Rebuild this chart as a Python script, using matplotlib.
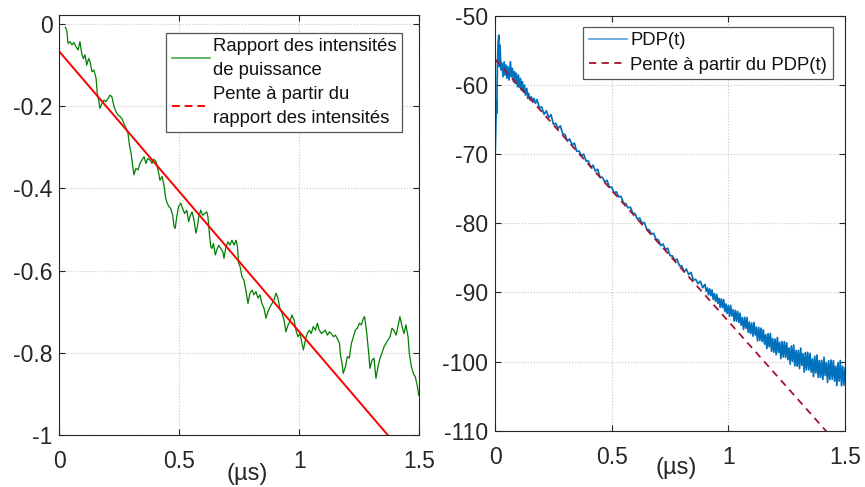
import matplotlib
matplotlib.use("Agg")
import matplotlib.pyplot as plt
from matplotlib.lines import Line2D

plt.rcParams['font.family'] = ['Liberation Sans', 'DejaVu Sans']

# ---------------- Left panel data ----------------
ratio_t = [0.025, 0.031, 0.036, 0.044, 0.053, 0.061, 0.069, 0.078, 0.086, 0.093,
           0.100, 0.107, 0.114, 0.122, 0.128, 0.136, 0.144, 0.153, 0.158, 0.164,
           0.169, 0.178, 0.186, 0.194, 0.203, 0.211, 0.219, 0.228, 0.236, 0.244,
           0.253, 0.261, 0.269, 0.278, 0.286, 0.292, 0.299, 0.306, 0.311, 0.319,
           0.328, 0.336, 0.344, 0.353, 0.361, 0.369, 0.378, 0.386, 0.394, 0.403,
           0.408, 0.414, 0.419, 0.428, 0.436, 0.442, 0.447, 0.456, 0.464, 0.472,
           0.478, 0.483, 0.489, 0.497, 0.506, 0.514, 0.522, 0.531, 0.539, 0.544,
           0.553, 0.561, 0.569, 0.575, 0.581, 0.589, 0.597, 0.606, 0.614, 0.619,
           0.625, 0.631, 0.636, 0.642, 0.650, 0.656, 0.664, 0.672, 0.681, 0.686,
           0.694, 0.703, 0.711, 0.719, 0.728, 0.736, 0.742, 0.747, 0.753, 0.761,
           0.769, 0.778, 0.786, 0.794, 0.803, 0.811, 0.819, 0.828, 0.836, 0.844,
           0.853, 0.861, 0.869, 0.878, 0.886, 0.894, 0.903, 0.911, 0.919, 0.928,
           0.936, 0.944, 0.953, 0.961, 0.969, 0.978, 0.986, 0.994, 1.003, 1.011,
           1.017, 1.025, 1.033, 1.042, 1.050, 1.058, 1.067, 1.075, 1.083, 1.092,
           1.100, 1.108, 1.117, 1.125, 1.133, 1.142, 1.150, 1.158, 1.167, 1.172,
           1.178, 1.183, 1.192, 1.200, 1.208, 1.217, 1.225, 1.233, 1.242, 1.250,
           1.258, 1.267, 1.272, 1.281, 1.289, 1.294, 1.303, 1.311, 1.319, 1.328,
           1.336, 1.344, 1.353, 1.361, 1.369, 1.378, 1.386, 1.394, 1.403, 1.411,
           1.419, 1.428, 1.436, 1.444, 1.453, 1.458, 1.467, 1.475, 1.483, 1.492,
           1.497]
ratio_val = [-0.008, -0.015, -0.047, -0.043, -0.051, -0.045, -0.055, -0.063, -0.043, -0.071,
             -0.084, -0.075, -0.100, -0.084, -0.092, -0.116, -0.112, -0.132, -0.169, -0.185,
             -0.205, -0.193, -0.185, -0.189, -0.181, -0.173, -0.177, -0.201, -0.213, -0.221,
             -0.225, -0.230, -0.242, -0.254, -0.266, -0.294, -0.315, -0.347, -0.367, -0.351,
             -0.355, -0.339, -0.331, -0.323, -0.339, -0.327, -0.331, -0.339, -0.329, -0.335,
             -0.347, -0.363, -0.380, -0.371, -0.392, -0.420, -0.432, -0.444, -0.449, -0.465,
             -0.493, -0.497, -0.469, -0.444, -0.436, -0.449, -0.461, -0.453, -0.481, -0.469,
             -0.457, -0.477, -0.509, -0.493, -0.469, -0.453, -0.465, -0.461, -0.457, -0.469,
             -0.509, -0.542, -0.546, -0.534, -0.562, -0.550, -0.538, -0.546, -0.554, -0.570,
             -0.542, -0.530, -0.538, -0.526, -0.538, -0.526, -0.542, -0.582, -0.590, -0.615,
             -0.623, -0.651, -0.680, -0.655, -0.647, -0.659, -0.651, -0.667, -0.659, -0.680,
             -0.692, -0.716, -0.700, -0.688, -0.680, -0.672, -0.655, -0.667, -0.692, -0.704,
             -0.720, -0.749, -0.732, -0.724, -0.708, -0.720, -0.745, -0.761, -0.753, -0.777,
             -0.793, -0.769, -0.753, -0.745, -0.753, -0.736, -0.745, -0.728, -0.745, -0.753,
             -0.749, -0.745, -0.757, -0.749, -0.753, -0.761, -0.757, -0.765, -0.777, -0.809,
             -0.826, -0.850, -0.834, -0.809, -0.813, -0.777, -0.761, -0.745, -0.740, -0.728,
             -0.732, -0.716, -0.712, -0.753, -0.801, -0.838, -0.818, -0.813, -0.862, -0.834,
             -0.813, -0.801, -0.785, -0.777, -0.769, -0.761, -0.740, -0.745, -0.757, -0.736,
             -0.712, -0.736, -0.753, -0.732, -0.761, -0.801, -0.834, -0.850, -0.858, -0.882,
             -0.903]
fit_ratio_t = [0.0, 1.5]
fit_ratio_val = [-0.067, -1.090]

# ---------------- Right panel data ----------------
pdp_t = [0.000, 0.006, 0.007, 0.010, 0.013, 0.016, 0.019, 0.021, 0.026, 0.030,
         0.034, 0.039, 0.043, 0.047, 0.051, 0.056, 0.060, 0.066, 0.070, 0.074,
         0.079, 0.083, 0.087, 0.091, 0.096, 0.100, 0.104, 0.109, 0.113, 0.117,
         0.121, 0.126, 0.130, 0.136, 0.140, 0.144, 0.150, 0.156, 0.161, 0.167,
         0.173,
         0.18, 0.19, 0.20, 0.21, 0.22, 0.23, 0.24, 0.25, 0.26, 0.27,
         0.28, 0.29, 0.30, 0.31, 0.32, 0.33, 0.34, 0.35, 0.36, 0.37,
         0.38, 0.39, 0.40, 0.41, 0.42, 0.43, 0.44, 0.45, 0.46, 0.47,
         0.48, 0.49, 0.50, 0.51, 0.52, 0.53, 0.54, 0.55, 0.56, 0.57,
         0.58, 0.59, 0.60, 0.61, 0.62, 0.63, 0.64, 0.65, 0.66, 0.67,
         0.68, 0.69, 0.70, 0.71, 0.72, 0.73, 0.74, 0.75, 0.76, 0.77,
         0.78, 0.79, 0.80, 0.81, 0.82, 0.83, 0.84, 0.85, 0.86, 0.87,
         0.88, 0.89, 0.895,
         0.900, 0.905, 0.910, 0.915, 0.920, 0.925, 0.930, 0.935, 0.940, 0.945,
         0.950, 0.955, 0.960, 0.965, 0.970, 0.975, 0.980, 0.985, 0.990, 0.995,
         1.000, 1.005, 1.010, 1.015, 1.020, 1.025, 1.030, 1.035, 1.040, 1.045,
         1.050, 1.055, 1.060, 1.065, 1.070, 1.075, 1.080, 1.085, 1.090, 1.095,
         1.100, 1.105, 1.110, 1.115, 1.120, 1.125, 1.130, 1.135, 1.140, 1.145,
         1.150, 1.155, 1.160, 1.165, 1.170, 1.175, 1.180, 1.185, 1.190, 1.195,
         1.200, 1.205, 1.210, 1.215, 1.220, 1.225, 1.230, 1.235, 1.240, 1.245,
         1.250, 1.255, 1.260, 1.265, 1.270, 1.275, 1.280, 1.285, 1.290, 1.295,
         1.300, 1.305, 1.310, 1.315, 1.320, 1.325, 1.330, 1.335, 1.340, 1.345,
         1.350, 1.355, 1.360, 1.365, 1.370, 1.375, 1.380, 1.385, 1.390, 1.395,
         1.400, 1.405, 1.410, 1.415, 1.420, 1.425, 1.430, 1.435, 1.440, 1.445,
         1.450, 1.455, 1.460, 1.465, 1.470, 1.475, 1.480, 1.485, 1.490, 1.495,
         1.500]
pdp_db = [-70.84, -62.16, -64.09, -57.33, -53.96, -52.75, -57.33, -54.20, -57.81, -56.85,
          -58.78, -56.61, -58.54, -57.09, -59.02, -57.33, -59.26, -56.61, -58.78, -57.57,
          -59.50, -58.06, -59.74, -58.30, -60.23, -58.54, -60.32, -59.02, -60.71, -59.50,
          -60.95, -59.99, -61.43, -60.47, -61.92, -61.19, -62.16, -61.67, -62.40, -61.92,
          -62.64,
          -62.09, -63.27, -63.15, -64.23, -63.71, -64.69, -64.27, -65.65, -65.52, -66.30,
          -65.88, -67.06, -67.14, -68.12, -67.78, -68.64, -68.38, -69.56, -69.53, -70.23,
          -69.97, -70.99, -70.97, -71.91, -71.57, -72.43, -72.17, -73.35, -73.32, -74.02,
          -73.76, -74.78, -74.76, -75.60, -75.44, -76.18, -76.08, -77.06, -77.13, -77.75,
          -77.65, -78.51, -78.59, -79.39, -79.23, -79.97, -79.87, -80.85, -80.92, -81.54,
          -81.44, -82.30, -82.38, -83.23, -82.98, -83.78, -83.60, -84.68, -84.70, -85.36,
          -85.18, -86.12, -86.15, -87.01, -86.61, -87.41, -87.09, -88.21, -88.10, -88.72,
          -88.38, -89.32, -89.03,
          -88.85, -89.82, -89.35, -90.34, -89.48, -90.46, -89.64, -91.00, -90.18, -91.28,
          -90.27, -91.56, -90.85, -92.14, -90.92, -92.18, -91.04, -92.78, -91.66, -93.04,
          -91.87, -93.46, -91.86, -93.39, -92.50, -94.15, -92.57, -94.16, -92.74, -94.35,
          -93.00, -94.74, -93.65, -95.32, -93.59, -95.18, -93.62, -95.77, -94.29, -95.94,
          -94.43, -96.33, -94.34, -96.16, -95.03, -97.01, -95.04, -96.94, -95.16, -97.10,
          -95.40, -97.48, -96.11, -98.12, -95.96, -97.87, -95.92, -98.52, -96.67, -98.65,
          -96.75, -99.01, -96.51, -98.67, -97.22, -99.56, -97.10, -99.34, -97.11, -99.39,
          -97.28, -99.73, -98.03, -100.38, -97.74, -99.97, -97.60, -100.63, -98.38, -100.67,
          -98.38, -101.02, -98.05, -100.55, -98.85, -101.52, -98.68, -101.20, -98.66, -101.20,
          -98.81, -101.53, -99.61, -102.17, -99.24, -101.65, -99.04, -102.30, -99.85, -102.28,
          -99.81, -102.59, -99.38, -102.02, -100.15, -103.01, -99.88, -102.60, -99.78, -102.54,
          -99.86, -102.82, -100.65, -103.48, -100.16, -102.83, -99.84, -103.50, -100.67, -103.41,
          -100.92]
fit_pdp_t = [0.0, 1.5]
fit_pdp_db = [-56.27, -113.12]

xticks = [0, 0.5, 1, 1.5]
xtick_labels = ['0', '0.5', '1', '1.5']
left_yticks = [-1, -0.8, -0.6, -0.4, -0.2, 0]
left_ytick_labels = ['-1', '-0.8', '-0.6', '-0.4', '-0.2', '0']
right_yticks = [-110, -100, -90, -80, -70, -60, -50]
right_ytick_labels = ['-110', '-100', '-90', '-80', '-70', '-60', '-50']

GREEN = '#008000'
RED = '#ff0000'
BLUE = '#0072BD'
DARKRED = '#A2142F'
AXC = '#262626'

TICK_FS = 16.5
LEG_FS = 13.3
LAB_FS = 17

fig = plt.figure(figsize=(8.65, 4.87), dpi=100)
axL = fig.add_axes([0.0686, 0.1068, 0.4162, 0.8624])
axR = fig.add_axes([0.5723, 0.1156, 0.4046, 0.8515])


def style(ax):
    for s in ax.spines.values():
        s.set_color(AXC)
        s.set_linewidth(0.8)
    ax.tick_params(direction='in', length=4, width=0.8, colors=AXC,
                   top=True, right=True, labelsize=TICK_FS)
    ax.tick_params(axis='x', pad=11)
    ax.tick_params(axis='y', pad=5)
    ax.grid(True, linestyle=':', color='#c8c8c8', linewidth=0.8)
    ax.set_axisbelow(True)
    ax.set_xticks(xticks)
    ax.set_xticklabels(xtick_labels)


def style_legend(leg):
    leg.get_frame().set_linewidth(0.9)
    for t in leg.get_texts():
        t.set_linespacing(1.5)
        t.set_color('#111111')


# Left
axL.plot(ratio_t, ratio_val, color=GREEN, lw=0.9)
axL.plot(fit_ratio_t, fit_ratio_val, color=RED, lw=1.4)
axL.set_xlim(0, 1.5)
axL.set_ylim(-1, 0.022)
style(axL)
axL.set_yticks(left_yticks)
axL.set_yticklabels(left_ytick_labels)
axL.set_xlabel('(µs)', fontsize=LAB_FS, color=AXC, va='top')
axL.xaxis.set_label_coords(0.522, -0.066)
hL = [Line2D([], [], color='#4ca64c', lw=1.2),
      Line2D([], [], color=RED, lw=1.4, ls=(0, (4, 2.5)))]
legL = axL.legend(hL, ['Rapport des intensités\nde puissance',
                       'Pente à partir du\nrapport des intensités'],
                  loc='upper right', bbox_to_anchor=(0.953, 0.958), borderaxespad=0,
                  fontsize=LEG_FS, handlelength=2.05, handletextpad=0.2, labelspacing=0.4,
                  borderpad=0.3, fancybox=False, framealpha=1, edgecolor='#555555')
style_legend(legL)

# Right
axR.plot(pdp_t, pdp_db, color=BLUE, lw=1.25)
axR.plot(fit_pdp_t, fit_pdp_db, color=DARKRED, lw=1.3, ls=(0, (4, 3)))
axR.set_xlim(0, 1.5)
axR.set_ylim(-110, -50)
style(axR)
axR.set_yticks(right_yticks)
axR.set_yticklabels(right_ytick_labels)
axR.set_xlabel('(µs)', fontsize=LAB_FS, color=AXC, va='top')
axR.xaxis.set_label_coords(0.517, -0.064)
hR = [Line2D([], [], color='#5aa0d8', lw=1.2),
      Line2D([], [], color=DARKRED, lw=1.3, ls=(0, (4, 3)))]
legR = axR.legend(hR, ['PDP(t)', 'Pente à partir du PDP(t)'],
                  loc='upper right', bbox_to_anchor=(0.965, 0.974), borderaxespad=0,
                  fontsize=LEG_FS, handlelength=2.05, handletextpad=0.2, labelspacing=0.4,
                  borderpad=0.3, fancybox=False, framealpha=1, edgecolor='#555555')
style_legend(legR)

fig.savefig('out.png', dpi=100)
